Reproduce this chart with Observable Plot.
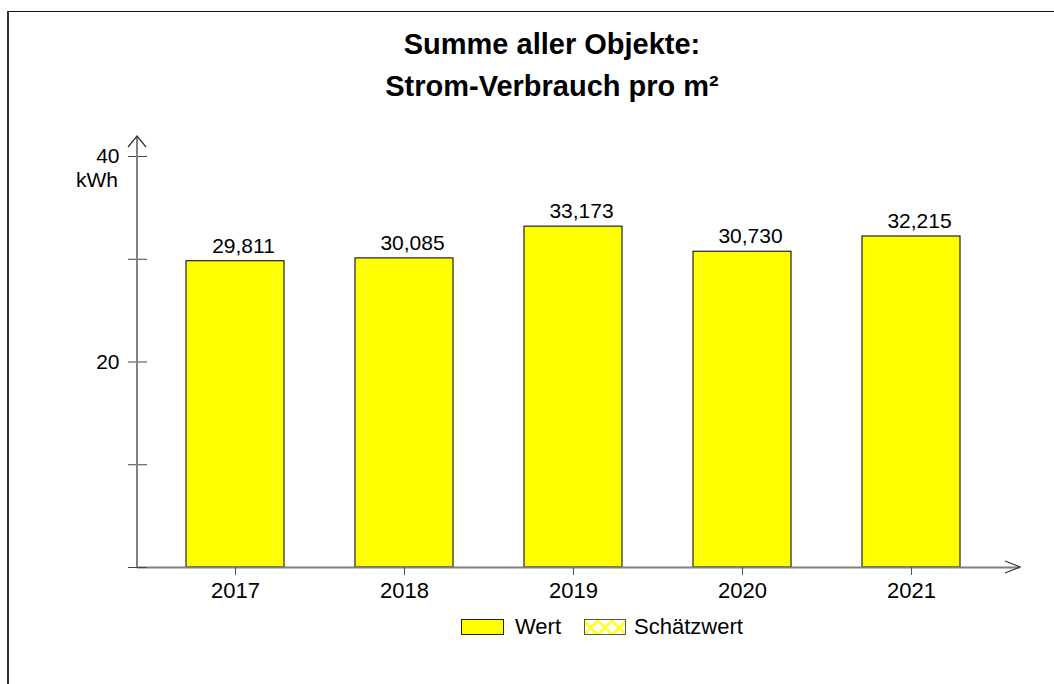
<!DOCTYPE html>
<html><head><meta charset="utf-8">
<script src="https://cdn.jsdelivr.net/npm/d3@7"></script>
<script src="https://cdn.jsdelivr.net/npm/@observablehq/plot@0.6"></script>
<style>
body{margin:0;background:#fff;font-family:"Liberation Sans",Arial,sans-serif;color:#000}
#wrap{position:relative;width:1054px;height:684px;overflow:hidden;background:#fff}
#border{position:absolute;left:7px;top:11px;width:1100px;height:700px;border-top:1.5px solid #111;border-left:2px solid #333}
#title{position:absolute;left:302px;width:500px;top:23px;text-align:center;font-weight:bold;font-size:29px;line-height:42px}
#unit{position:absolute;right:936px;top:168px;font-size:21px;line-height:24px}
#chart{position:absolute;left:0;top:0}
.lg{position:absolute;top:619px;height:16px;box-sizing:border-box}
.lgt{position:absolute;top:614px;font-size:22px;line-height:26px}
</style></head>
<body><div id="wrap">
<div id="border"></div>
<div id="chart"></div>
<div id="title">Summe aller Objekte:<br>Strom-Verbrauch pro m²</div>
<div id="unit">kWh</div>
<div class="lg" style="left:461px;width:43px;background:#ffff00;border:1px solid #222"></div>
<div class="lgt" style="left:515px">Wert</div>
<div class="lg" style="left:584px;width:42px;border:1px solid #555;background:repeating-linear-gradient(45deg,transparent 0 7px,#ffff33 7px 10px),repeating-linear-gradient(-45deg,#fff 0 7px,#ffff33 7px 10px)"></div>
<div class="lgt" style="left:634px">Schätzwert</div>
</div>
<script>
const years = ["2017", "2018", "2019", "2020", "2021"];
const values = [29.811, 30.085, 33.173, 30.730, 32.215];
const valueLabels = ["29,811", "30,085", "33,173", "30,730", "32,215"];
const yTicks = [0, 10, 20, 30, 40];
const yTickLabels = [20, 40];

const data = years.map((year, i) => ({year, value: values[i], label: valueLabels[i]}));

const plot = Plot.plot({
  width: 1054,
  height: 684,
  marginLeft: 137,
  marginRight: 34,
  marginTop: 136,
  marginBottom: 117,
  style: {fontFamily: "Liberation Sans, Arial, sans-serif", background: "transparent", overflow: "visible"},
  x: {domain: years, range: [150.5, 995.5], paddingInner: 0.42, paddingOuter: 0.21},
  y: {domain: [0, 40], range: [567, 156]},
  marks: [
    Plot.barY(data, {x: "year", y: "value", fill: "#ffff00", stroke: "#222", strokeWidth: 1.2}),
    Plot.text(data, {x: "year", y: "value", text: "label", dx: 8, dy: -15, fontSize: 21, fill: "#000"}),
    Plot.ruleY([0], {stroke: "#808080", strokeWidth: 2}),
    Plot.axisY({ticks: yTicks, tickSize: 19, dx: 10, tickFormat: () => "", label: null, stroke: "#444"}),
    Plot.axisY({ticks: yTickLabels, tickSize: 0, tickPadding: 18, fontSize: 21, label: null, fill: "#000"}),
    Plot.axisX({tickSize: 8, tickPadding: 7, fontSize: 22, label: null, stroke: "#555", fill: "#000"})
  ]
});
document.getElementById("chart").appendChild(plot);

// axis lines with arrowheads, positioned from the scales
const ys = plot.scale("y");
const y0 = ys.apply(0);
const xLeft = 137, xRight = 1020, yTop = 136;
const svg = d3.select(plot);
const g = svg.append("g").attr("fill", "none").attr("stroke-width", 1.2);
g.append("line").attr("x1", xLeft).attr("x2", xLeft).attr("y1", y0).attr("y2", yTop).attr("stroke", "#808080").attr("stroke-width", 2);
g.append("path").attr("d", `M${xLeft - 9},${yTop + 11}L${xLeft},${yTop}L${xLeft + 9},${yTop + 11}`).attr("stroke", "#333");
g.append("path").attr("d", `M${xRight - 15},${y0 - 6}L${xRight},${y0}L${xRight - 15},${y0 + 6}`).attr("stroke", "#333");
</script>
</body></html>
